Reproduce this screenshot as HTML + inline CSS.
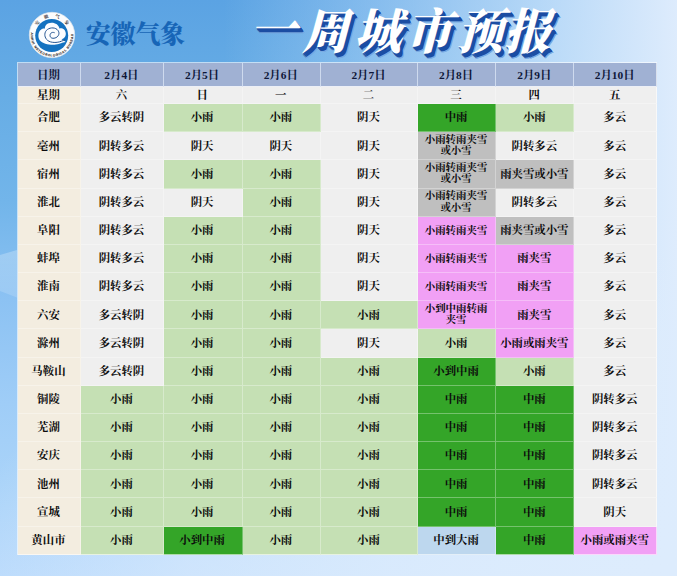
<!DOCTYPE html>
<html lang="zh-CN">
<head>
<meta charset="utf-8">
<title>一周城市预报 - 安徽气象</title>
<style>
html,body{margin:0;padding:0;}
body{width:677px;height:576px;overflow:hidden;font-family:"Liberation Sans",sans-serif;background:#8dbcf0;}
#page{position:relative;width:677px;height:576px;overflow:hidden;
  background:
    radial-gradient(ellipse 720px 330px at 100% 100%, rgba(221,236,253,1) 0%, rgba(221,236,253,.85) 40%, rgba(221,236,253,.6) 68%, rgba(221,236,253,0) 100%),
    linear-gradient(90deg, rgba(190,222,253,0) 0%, rgba(190,222,253,0) 33%, rgba(196,225,253,.4) 55%, rgba(208,231,253,.78) 80%, rgba(224,237,253,.98) 100%),
    linear-gradient(180deg, #5ba3e3 0%, #67ade5 17%, #72b5ea 35%, #8cc2f3 52%, #9fcdf7 70%, #a9d3f9 83%, #b9dafc 100%);
}
.sr{position:absolute;width:1px;height:1px;margin:-1px;overflow:hidden;clip:rect(0 0 0 0);white-space:nowrap;font-size:1px;color:transparent;}
#ray{position:absolute;left:0;top:248px;width:17px;height:52px;background:linear-gradient(180deg,rgba(255,255,255,.26),rgba(255,255,255,.14));clip-path:polygon(0 13.5%,100% 3.8%,100% 95%,0 82.7%);}
#logo{position:absolute;left:28px;top:11px;width:48px;height:48px;}
#brand{position:absolute;left:86px;top:20px;}
#title{position:absolute;left:245px;top:2px;}
#grid{position:absolute;left:16.6px;top:62px;box-sizing:border-box;width:640.4px;height:493px;
  display:grid;gap:0;padding:1px 0 0 1px;background:rgba(255,255,255,.6);
  grid-template-columns:63.7px 82.3px 79px 78.4px 97px 78.2px 78.3px 82.5px;
  grid-template-rows:24.4px 16.7px repeat(16,28.175px);}
.c{background:#efefef;display:flex;flex-direction:column;align-items:center;justify-content:center;overflow:hidden;position:relative;padding:.9px 1px 0 0;
  box-sizing:border-box;border-right:1px solid rgba(255,255,255,0.32);border-bottom:1px solid rgba(255,255,255,0.32);}
.r>.c:last-child{border-right-color:rgba(255,255,255,.6);}
.r:last-child>.c{border-bottom-color:rgba(255,255,255,.6);}
.c .t{display:block;flex:none;white-space:nowrap;font-family:"Liberation Serif","Noto Serif CJK SC",serif;font-weight:bold;font-size:11.4px;line-height:11.4px;height:11.4px;color:#0c0c0c;}
.c .t.lt{font-weight:600;}
.c .t.s{font-size:10.45px;line-height:10.45px;height:10.45px;}
.c.h{background:#a0b1d3;padding-top:1.8px;border-right-color:rgba(235,243,255,.62);border-bottom-color:rgba(255,255,255,.8);}
.r:nth-child(2)>.c{padding-bottom:.8px;}
.c.h .t{color:#0e1738;}
.c.n{background:#f3ede0;}
.c.g{background:#c5e0b4;}
.c.G{background:#34a528;}
.c.y{background:#bfbfbf;}
.c.p{background:#f1a0f5;}
.c.b{background:#bdd7ee;}
.c.two .t{margin:-0.1px 0 1px;}
</style>
</head>
<body>
<div id="page">
  <div id="ray"></div>
  <div id="logo"><span class="sr">安徽气象 ANHUI METEOROLOGICAL BUREAU</span>
    <svg width="48" height="48" viewBox="-24 -24 48 48" aria-hidden="true">
      <circle r="22.7" fill="#fbfcfd" stroke="#dfe6ee" stroke-width=".7"/>
      <circle cx="-.3" cy=".5" r="16.5" fill="#1472c0"/>
      <path d="M-12.5 5 C-14.2 2 -14 -3.5 -11 -5.3 C-9.5 -6.6 -8 -6.6 -7 -6.4 C-7.6 -9.5 -4.5 -12.4 -.4 -12.3 C3.5 -12.3 7 -10 7.4 -6.6 C10 -7.6 13.6 -5.5 13.8 -1.8 C14 1.5 12 3.8 9.5 4.2 C11 5 12.6 6 13.6 7 C10 7.2 8.5 9 4 9.6 C-1 10.3 -9 9.5 -12.5 5Z" fill="#fbfdff"/>
      <path d="M2.3 -2.4 C-.5 -3.6 -2.6 -1 -1.8 1.4 C-1 3.8 2.6 3.8 5 2 C7.6 0 7.6 -3.4 5 -5.6 C2 -8 -3 -7.4 -5.6 -4.6 C-8.2 -1.6 -7.4 3 -4.4 5.4 C-1 8 5 8 9.4 6.2 C11 5.6 12 5.2 12.8 5" fill="none" stroke="#1a4d8c" stroke-width=".95" stroke-linecap="round"/>
      <defs><path id="ringb" d="M-20.9 -3.3 A21.2 21.2 0 1 0 20.9 -3.3"/></defs>
      <text font-family="Liberation Sans, sans-serif" font-weight="bold" font-size="3.1" fill="#4a3e3a" stroke="#4a3e3a" stroke-width=".15" textLength="70" lengthAdjust="spacing"><textPath href="#ringb" startOffset="1" textLength="70" lengthAdjust="spacing">ANHUI METEOROLOGICAL BUREAU</textPath></text>
      <g fill="#40363a" font-family="'Liberation Serif','Noto Serif CJK SC',serif" font-weight="bold" font-size="4.6" text-anchor="middle"><text transform="translate(-15.00 -12.15) rotate(-51.0)" x="0" y="1.75">安</text><text transform="translate(-5.96 -18.36) rotate(-18.0)" x="0" y="1.75">徽</text><text transform="translate(5.32 -18.55) rotate(16.0)" x="0" y="1.75">气</text><text transform="translate(14.78 -12.41) rotate(50.0)" x="0" y="1.75">象</text></g>
    </svg>
  </div>
  <div id="brand">
    <svg width="101.5" height="27" viewBox="0 0 101.5 27" aria-hidden="false"><text x="0" y="23.1" font-family="'Liberation Serif','Noto Serif CJK SC',serif" font-weight="900" font-size="24.8" fill="#1765b7" textLength="99" lengthAdjust="spacingAndGlyphs">安徽气象</text></svg>
  </div>
  <h1 id="title" style="margin:0">
    <svg width="330" height="62" viewBox="0 0 330 62">
      <defs><g id="trun"><text font-family="'Liberation Serif','Noto Serif CJK SC',serif" font-weight="900" font-size="1000" x="-80 1048 2166 3251 4339 5359" y="-40 0 0 0 0 0">一周城市预报</text></g></defs>
      <g transform="translate(7.8 47.4) skewX(-15) scale(0.0468 0.0485)">
        <use href="#trun" fill="#6fa3df" transform="translate(112 100)"/>
        <use href="#trun" fill="#7aaae2" transform="translate(100 90)"/>
        <g fill="#1b4da3">
          <use href="#trun" transform="translate(84 75)"/>
          <use href="#trun" transform="translate(70 62)"/>
          <use href="#trun" transform="translate(56 50)"/>
          <use href="#trun" transform="translate(42 37)"/>
          <use href="#trun" transform="translate(28 25)"/>
          <use href="#trun" transform="translate(14 12)"/>
        </g>
        <use href="#trun" fill="#ffffff"/>
      </g>
    </svg>
  </h1>
  <div id="grid" role="table">
<div class="r" role="row" style="display:contents"><div class="c h" role="cell"><span class="t">日期</span></div><div class="c h" role="cell"><span class="t">2月4日</span></div><div class="c h" role="cell"><span class="t">2月5日</span></div><div class="c h" role="cell"><span class="t">2月6日</span></div><div class="c h" role="cell"><span class="t">2月7日</span></div><div class="c h" role="cell"><span class="t">2月8日</span></div><div class="c h" role="cell"><span class="t">2月9日</span></div><div class="c h" role="cell"><span class="t">2月10日</span></div></div>
<div class="r" role="row" style="display:contents"><div class="c n" role="cell"><span class="t">星期</span></div><div class="c" role="cell"><span class="t lt">六</span></div><div class="c" role="cell"><span class="t">日</span></div><div class="c" role="cell"><span class="t lt">一</span></div><div class="c" role="cell"><span class="t lt">二</span></div><div class="c" role="cell"><span class="t lt">三</span></div><div class="c" role="cell"><span class="t">四</span></div><div class="c" role="cell"><span class="t">五</span></div></div>
<div class="r" role="row" style="display:contents"><div class="c n" role="cell"><span class="t">合肥</span></div><div class="c" role="cell"><span class="t">多云转阴</span></div><div class="c g" role="cell"><span class="t">小雨</span></div><div class="c g" role="cell"><span class="t">小雨</span></div><div class="c" role="cell"><span class="t">阴天</span></div><div class="c G" role="cell"><span class="t">中雨</span></div><div class="c g" role="cell"><span class="t">小雨</span></div><div class="c" role="cell"><span class="t">多云</span></div></div>
<div class="r" role="row" style="display:contents"><div class="c n" role="cell"><span class="t">亳州</span></div><div class="c" role="cell"><span class="t">阴转多云</span></div><div class="c" role="cell"><span class="t">阴天</span></div><div class="c" role="cell"><span class="t">阴天</span></div><div class="c" role="cell"><span class="t">阴天</span></div><div class="c y two" role="cell"><span class="t s">小雨转雨夹雪</span><span class="t s">或小雪</span></div><div class="c" role="cell"><span class="t">阴转多云</span></div><div class="c" role="cell"><span class="t">多云</span></div></div>
<div class="r" role="row" style="display:contents"><div class="c n" role="cell"><span class="t">宿州</span></div><div class="c" role="cell"><span class="t">阴转多云</span></div><div class="c g" role="cell"><span class="t">小雨</span></div><div class="c g" role="cell"><span class="t">小雨</span></div><div class="c" role="cell"><span class="t">阴天</span></div><div class="c y two" role="cell"><span class="t s">小雨转雨夹雪</span><span class="t s">或小雪</span></div><div class="c y" role="cell"><span class="t">雨夹雪或小雪</span></div><div class="c" role="cell"><span class="t">多云</span></div></div>
<div class="r" role="row" style="display:contents"><div class="c n" role="cell"><span class="t">淮北</span></div><div class="c" role="cell"><span class="t">阴转多云</span></div><div class="c" role="cell"><span class="t">阴天</span></div><div class="c g" role="cell"><span class="t">小雨</span></div><div class="c" role="cell"><span class="t">阴天</span></div><div class="c y two" role="cell"><span class="t s">小雨转雨夹雪</span><span class="t s">或小雪</span></div><div class="c" role="cell"><span class="t">阴转多云</span></div><div class="c" role="cell"><span class="t">多云</span></div></div>
<div class="r" role="row" style="display:contents"><div class="c n" role="cell"><span class="t">阜阳</span></div><div class="c" role="cell"><span class="t">阴转多云</span></div><div class="c g" role="cell"><span class="t">小雨</span></div><div class="c g" role="cell"><span class="t">小雨</span></div><div class="c" role="cell"><span class="t">阴天</span></div><div class="c p" role="cell"><span class="t s">小雨转雨夹雪</span></div><div class="c y" role="cell"><span class="t">雨夹雪或小雪</span></div><div class="c" role="cell"><span class="t">多云</span></div></div>
<div class="r" role="row" style="display:contents"><div class="c n" role="cell"><span class="t">蚌埠</span></div><div class="c" role="cell"><span class="t">阴转多云</span></div><div class="c g" role="cell"><span class="t">小雨</span></div><div class="c g" role="cell"><span class="t">小雨</span></div><div class="c" role="cell"><span class="t">阴天</span></div><div class="c p" role="cell"><span class="t s">小雨转雨夹雪</span></div><div class="c p" role="cell"><span class="t">雨夹雪</span></div><div class="c" role="cell"><span class="t">多云</span></div></div>
<div class="r" role="row" style="display:contents"><div class="c n" role="cell"><span class="t">淮南</span></div><div class="c" role="cell"><span class="t">阴转多云</span></div><div class="c g" role="cell"><span class="t">小雨</span></div><div class="c g" role="cell"><span class="t">小雨</span></div><div class="c" role="cell"><span class="t">阴天</span></div><div class="c p" role="cell"><span class="t s">小雨转雨夹雪</span></div><div class="c p" role="cell"><span class="t">雨夹雪</span></div><div class="c" role="cell"><span class="t">多云</span></div></div>
<div class="r" role="row" style="display:contents"><div class="c n" role="cell"><span class="t">六安</span></div><div class="c" role="cell"><span class="t">多云转阴</span></div><div class="c g" role="cell"><span class="t">小雨</span></div><div class="c g" role="cell"><span class="t">小雨</span></div><div class="c g" role="cell"><span class="t">小雨</span></div><div class="c p two" role="cell"><span class="t s">小到中雨转雨</span><span class="t s">夹雪</span></div><div class="c p" role="cell"><span class="t">雨夹雪</span></div><div class="c" role="cell"><span class="t">多云</span></div></div>
<div class="r" role="row" style="display:contents"><div class="c n" role="cell"><span class="t">滁州</span></div><div class="c" role="cell"><span class="t">多云转阴</span></div><div class="c g" role="cell"><span class="t">小雨</span></div><div class="c g" role="cell"><span class="t">小雨</span></div><div class="c" role="cell"><span class="t">阴天</span></div><div class="c g" role="cell"><span class="t">小雨</span></div><div class="c p" role="cell"><span class="t">小雨或雨夹雪</span></div><div class="c" role="cell"><span class="t">多云</span></div></div>
<div class="r" role="row" style="display:contents"><div class="c n" role="cell"><span class="t">马鞍山</span></div><div class="c" role="cell"><span class="t">多云转阴</span></div><div class="c g" role="cell"><span class="t">小雨</span></div><div class="c g" role="cell"><span class="t">小雨</span></div><div class="c g" role="cell"><span class="t">小雨</span></div><div class="c G" role="cell"><span class="t">小到中雨</span></div><div class="c g" role="cell"><span class="t">小雨</span></div><div class="c" role="cell"><span class="t">多云</span></div></div>
<div class="r" role="row" style="display:contents"><div class="c n" role="cell"><span class="t">铜陵</span></div><div class="c g" role="cell"><span class="t">小雨</span></div><div class="c g" role="cell"><span class="t">小雨</span></div><div class="c g" role="cell"><span class="t">小雨</span></div><div class="c g" role="cell"><span class="t">小雨</span></div><div class="c G" role="cell"><span class="t">中雨</span></div><div class="c G" role="cell"><span class="t">中雨</span></div><div class="c" role="cell"><span class="t">阴转多云</span></div></div>
<div class="r" role="row" style="display:contents"><div class="c n" role="cell"><span class="t">芜湖</span></div><div class="c g" role="cell"><span class="t">小雨</span></div><div class="c g" role="cell"><span class="t">小雨</span></div><div class="c g" role="cell"><span class="t">小雨</span></div><div class="c g" role="cell"><span class="t">小雨</span></div><div class="c G" role="cell"><span class="t">中雨</span></div><div class="c G" role="cell"><span class="t">中雨</span></div><div class="c" role="cell"><span class="t">阴转多云</span></div></div>
<div class="r" role="row" style="display:contents"><div class="c n" role="cell"><span class="t">安庆</span></div><div class="c g" role="cell"><span class="t">小雨</span></div><div class="c g" role="cell"><span class="t">小雨</span></div><div class="c g" role="cell"><span class="t">小雨</span></div><div class="c g" role="cell"><span class="t">小雨</span></div><div class="c G" role="cell"><span class="t">中雨</span></div><div class="c G" role="cell"><span class="t">中雨</span></div><div class="c" role="cell"><span class="t">阴转多云</span></div></div>
<div class="r" role="row" style="display:contents"><div class="c n" role="cell"><span class="t">池州</span></div><div class="c g" role="cell"><span class="t">小雨</span></div><div class="c g" role="cell"><span class="t">小雨</span></div><div class="c g" role="cell"><span class="t">小雨</span></div><div class="c g" role="cell"><span class="t">小雨</span></div><div class="c G" role="cell"><span class="t">中雨</span></div><div class="c G" role="cell"><span class="t">中雨</span></div><div class="c" role="cell"><span class="t">阴转多云</span></div></div>
<div class="r" role="row" style="display:contents"><div class="c n" role="cell"><span class="t">宣城</span></div><div class="c g" role="cell"><span class="t">小雨</span></div><div class="c g" role="cell"><span class="t">小雨</span></div><div class="c g" role="cell"><span class="t">小雨</span></div><div class="c g" role="cell"><span class="t">小雨</span></div><div class="c G" role="cell"><span class="t">中雨</span></div><div class="c G" role="cell"><span class="t">中雨</span></div><div class="c" role="cell"><span class="t">阴天</span></div></div>
<div class="r" role="row" style="display:contents"><div class="c n" role="cell"><span class="t">黄山市</span></div><div class="c g" role="cell"><span class="t">小雨</span></div><div class="c G" role="cell"><span class="t">小到中雨</span></div><div class="c g" role="cell"><span class="t">小雨</span></div><div class="c g" role="cell"><span class="t">小雨</span></div><div class="c b" role="cell"><span class="t">中到大雨</span></div><div class="c G" role="cell"><span class="t">中雨</span></div><div class="c p" role="cell"><span class="t">小雨或雨夹雪</span></div></div>
  </div>
</div>
</body>
</html>
